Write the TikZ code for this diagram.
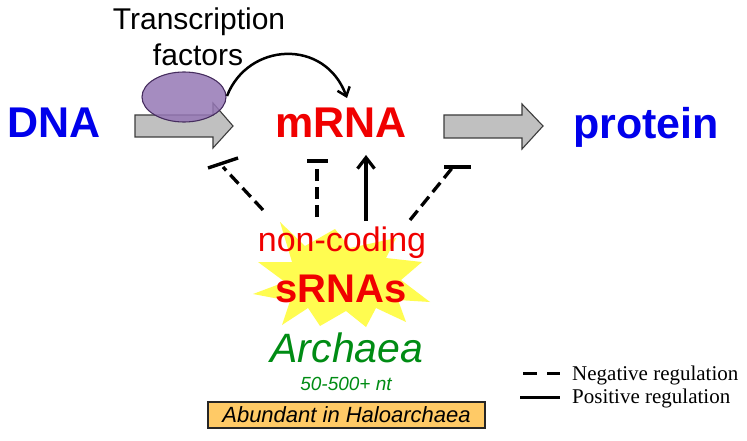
\documentclass[tikz,border=0pt]{standalone}
\usepackage{fontspec}
\setmainfont{Liberation Sans}
\newfontfamily\legendfont{Liberation Serif}
\usetikzlibrary{arrows.meta}
\definecolor{dnablue}{RGB}{0,0,235}
\definecolor{rnared}{RGB}{240,0,0}
\definecolor{archgreen}{RGB}{0,140,20}
\definecolor{tfpurple}{RGB}{150,120,182}
\definecolor{tfborder}{RGB}{70,45,95}
\definecolor{arrowgray}{RGB}{192,192,192}
\definecolor{arrowedge}{RGB}{60,60,60}
\definecolor{staryellow}{RGB}{255,252,80}
\definecolor{boxfill}{RGB}{255,202,102}
\tikzset{
  lbl/.style={inner sep=0pt, anchor=base},
  blockarrow/.style={fill=arrowgray, draw=arrowedge, line width=1.1pt, line join=miter},
  negreg/.style={line width=3.3pt, dash pattern=on 12pt off 6pt},
  tbar/.style={line width=3.4pt},
  posreg/.style={line width=3.2pt, -{Straight Barb[length=11pt,width=17pt,line width=3.2pt]}},
  tfarrow/.style={line width=2.5pt, -{Straight Barb[length=8pt,width=13pt,line width=2.5pt]}},
  legendtext/.style={inner sep=0pt, anchor=base west, font=\legendfont\fontsize{21}{25}\selectfont}
}
\begin{document}
\begin{tikzpicture}[x=1pt,y=-1pt]
\useasboundingbox (0,0) rectangle (747,441);
\fill[white] (0,0) rectangle (747,441);

% gray block arrows
\draw[blockarrow] (135,115) -- (213,115) -- (213,103) -- (233,126) -- (213,148) -- (213,137) -- (135,137) -- cycle;
\draw[blockarrow] (444,115) -- (522,115) -- (522,104) -- (543,126) -- (522,149) -- (522,138) -- (444,138) -- cycle;

% transcription factor ellipse
\draw[tfborder, line width=1.1pt, fill=tfpurple, fill opacity=0.85] (184,97) ellipse [x radius=42, y radius=25];
\coordinate (tfstart) at (227,96);
\coordinate (mrnatop) at (347,98);
\draw[tfarrow] (tfstart) .. controls (248,42) and (325,38) .. (mrnatop);

% texts
\node[lbl, font=\fontsize{30}{36}\selectfont] (tf1) at (199,30) {Transcription};
\node[lbl, font=\fontsize{30}{36}\selectfont] (tf2) at (198,66) {factors};
\node[lbl, font=\bfseries\fontsize{43}{50}\selectfont, text=dnablue] (dna) at (54,138) {DNA};
\node[lbl, font=\bfseries\fontsize{43}{50}\selectfont, text=rnared] (mrna) at (341,138) {mRNA};
\node[lbl, font=\bfseries\fontsize{43}{50}\selectfont, text=dnablue] (protein) at (646,139) {protein};

% star burst
\fill[staryellow] (280,222) -- (305,246) -- (335,229) -- (350,248) -- (396,238) -- (386,258)
  -- (422,262) -- (401,280) -- (430,302) -- (398,300) -- (406,322) -- (376,308)
  -- (366,327) -- (346,311) -- (320,326) -- (308,308) -- (282,325) -- (290,301)
  -- (253,294) -- (285,282) -- (258,262) -- (292,262) -- cycle;

% regulation connectors
\coordinate (l1s) at (263,210); \coordinate (l1e) at (223,167);
\coordinate (l1a) at (208,168); \coordinate (l1b) at (238,158);
\coordinate (l2s) at (317,217); \coordinate (l2e) at (317,161);
\coordinate (l2a) at (307,161); \coordinate (l2b) at (328,161);
\coordinate (l3s) at (366,221); \coordinate (l3e) at (366,155);
\coordinate (l4s) at (410,220); \coordinate (l4e) at (453,167);
\coordinate (l4a) at (444,167); \coordinate (l4b) at (471,167);
\draw[negreg] (l1s) -- (l1e);
\draw[tbar] (l1a) -- (l1b);
\draw[negreg] (l2s) -- (l2e);
\draw[tbar] (l2a) -- (l2b);
\draw[posreg] (l3s) -- (l3e);
\draw[negreg] (l4s) -- (l4e);
\draw[tbar] (l4a) -- (l4b);

\node[lbl, font=\fontsize{34}{40}\selectfont, text=rnared] (nc) at (342,251) {non-coding};
\node[lbl, font=\bfseries\fontsize{40}{46}\selectfont, text=rnared] (srna) at (341,302) {sRNAs};
\node[lbl, font=\itshape\fontsize{41}{48}\selectfont, text=archgreen] (arch) at (347,362) {Archaea};
\node[lbl, font=\itshape\fontsize{19}{23}\selectfont, text=archgreen] (len) at (346,390) {50-500+ nt};
\node[draw=black!85, line width=1.4pt, fill=boxfill, minimum width=277pt, minimum height=26pt,
      inner sep=0pt, font=\itshape\fontsize{22}{26}\selectfont] (hbox) at (346.5,415) {Abundant in Haloarchaea};

% legend
\coordinate (lg1a) at (523,373); \coordinate (lg1b) at (560,373);
\coordinate (lg2a) at (520,397); \coordinate (lg2b) at (560,397);
\draw[line width=3pt, dash pattern=on 14pt off 10pt] (lg1a) -- (lg1b);
\draw[line width=3pt] (lg2a) -- (lg2b);
\node[legendtext] (neg) at (572,380) {Negative regulation};
\node[legendtext] (pos) at (572,403) {Positive regulation};
\end{tikzpicture}
\end{document}
